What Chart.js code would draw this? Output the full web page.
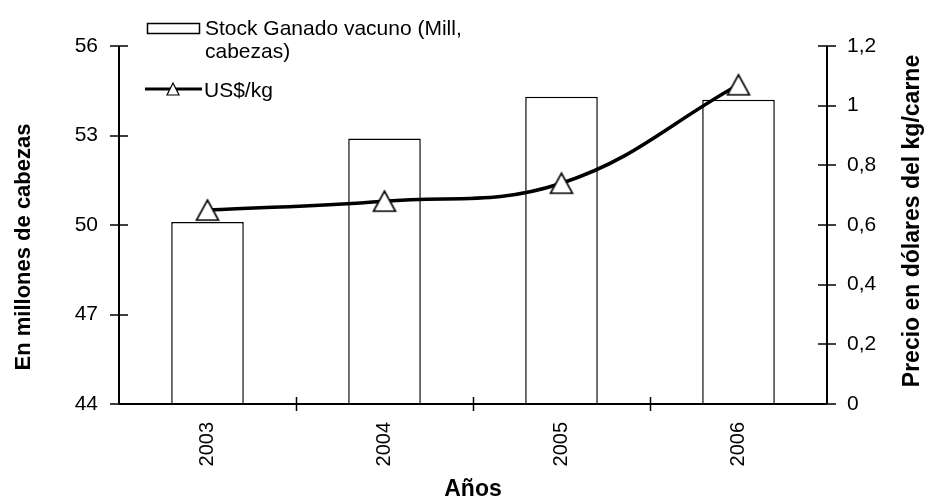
<!DOCTYPE html>
<html><head><meta charset="utf-8">
<script src="https://cdn.jsdelivr.net/npm/chart.js@4"></script>
<style>html,body{margin:0;padding:0;background:#fff;} #wrap{width:925px;height:502px;position:relative;}</style>
</head><body><div id="wrap"><canvas id="c" width="925" height="502"></canvas></div>
<script>
const years = ['2003', '2004', '2005', '2006'];
const stockValues = [50.1, 52.9, 54.3, 54.2];
const priceValues = [0.65, 0.68, 0.74, 1.07];
const stockTicks = [44, 47, 50, 53, 56];
const priceTicks = [0, 0.2, 0.4, 0.6, 0.8, 1, 1.2];
const stockLabelLines = ['Stock Ganado vacuno (Mill,', 'cabezas)'];
const priceLabel = 'US$/kg';
const leftTitle = 'En millones de cabezas';
const rightTitle = 'Precio en dólares del kg/carne';
const xTitle = 'Años';

const FONT = '"Liberation Sans", Arial, sans-serif';

// Excel-like triangle marker, centred on its bounding box
function makeTriangle(w, h) {
  const c = document.createElement('canvas');
  c.width = w + 4; c.height = h + 4;
  const g = c.getContext('2d');
  g.fillStyle = '#fff'; g.strokeStyle = '#000'; g.lineWidth = 1.6;
  g.lineJoin = 'miter';
  g.beginPath();
  g.moveTo((w + 4) / 2, 2); g.lineTo(w + 2, h + 2); g.lineTo(2, h + 2); g.closePath();
  g.fill(); g.stroke();
  return c;
}
const triMarker = makeTriangle(22, 20);

const decor = {
  id: 'decor',
  afterDraw(chart) {
    const ctx = chart.ctx, ca = chart.chartArea;
    const xs = chart.scales.x, ys = chart.scales.y, ys1 = chart.scales.y1;
    ctx.save();
    ctx.strokeStyle = '#000';
    ctx.lineWidth = 2;
    ctx.lineCap = 'butt';
    ctx.beginPath();
    ctx.moveTo(ca.left, ca.top); ctx.lineTo(ca.left, ca.bottom);
    ctx.moveTo(ca.right, ca.top); ctx.lineTo(ca.right, ca.bottom);
    ctx.moveTo(ca.left, ca.bottom); ctx.lineTo(ca.right, ca.bottom);
    ctx.stroke();
    ctx.lineWidth = 1.5;
    ctx.beginPath();
    ys.ticks.forEach(t => { const p = Math.round(ys.getPixelForValue(t.value)); ctx.moveTo(ca.left - 9, p); ctx.lineTo(ca.left + 9, p); });
    ys1.ticks.forEach(t => { const p = Math.round(ys1.getPixelForValue(t.value)); ctx.moveTo(ca.right - 9, p); ctx.lineTo(ca.right + 9, p); });
    const half = (xs.getPixelForValue(1) - xs.getPixelForValue(0)) / 2;
    for (let i = 1; i < years.length; i++) {
      const p = Math.round(xs.getPixelForValue(i) - half) + 0.5;
      ctx.moveTo(p, ca.bottom - 7); ctx.lineTo(p, ca.bottom + 7);
    }
    ctx.stroke();

    ctx.fillStyle = '#000';
    ctx.textAlign = 'center';
    ctx.textBaseline = 'middle';
    const cy = (ca.top + ca.bottom) / 2;
    ctx.save();
    ctx.translate(24, cy + 22);
    ctx.rotate(-Math.PI / 2);
    ctx.font = 'bold 22px ' + FONT;
    ctx.fillText(leftTitle, 0, 0);
    ctx.restore();
    ctx.save();
    ctx.translate(913, cy - 4);
    ctx.rotate(-Math.PI / 2);
    ctx.font = 'bold 23px ' + FONT;
    ctx.fillText(rightTitle, 0, 0);
    ctx.restore();
    ctx.font = 'bold 23px ' + FONT;
    ctx.fillText(xTitle, (ca.left + ca.right) / 2, 490);

    ctx.font = '21px ' + FONT;
    ctx.textAlign = 'left';
    ctx.textBaseline = 'alphabetic';
    ctx.fillStyle = '#fff';
    ctx.fillRect(147, 23, 52, 10);
    ctx.lineWidth = 1.5;
    ctx.strokeRect(147.5, 23.5, 52, 10);
    ctx.fillStyle = '#000';
    ctx.fillText(stockLabelLines[0], 205, 35);
    ctx.fillText(stockLabelLines[1], 205, 58);
    ctx.lineWidth = 3;
    ctx.beginPath(); ctx.moveTo(145, 89); ctx.lineTo(202, 89); ctx.stroke();
    ctx.fillStyle = '#fff'; ctx.lineWidth = 1.2;
    ctx.beginPath(); ctx.moveTo(173, 83); ctx.lineTo(179, 95); ctx.lineTo(167, 95); ctx.closePath(); ctx.fill(); ctx.stroke();
    ctx.fillStyle = '#000';
    ctx.fillText(priceLabel, 204, 97);
    ctx.restore();
  }
};

new Chart(document.getElementById('c'), {
  type: 'bar',
  data: {
    labels: years,
    datasets: [
      {
        type: 'line', label: priceLabel, data: priceValues, yAxisID: 'y1', order: 0,
        borderColor: '#000', borderWidth: 3.5, tension: 0.4,
        pointStyle: triMarker, pointRadius: 11
      },
      {
        type: 'bar', label: stockLabelLines.join(' '), data: stockValues, yAxisID: 'y', order: 1,
        backgroundColor: '#fff', borderColor: '#000', borderWidth: 1.5,
        barPercentage: 0.41, categoryPercentage: 1
      }
    ]
  },
  options: {
    responsive: false, animation: false, devicePixelRatio: 1,
    layout: { padding: { top: 46, left: 0, right: 0, bottom: 0 } },
    plugins: { legend: { display: false }, tooltip: { enabled: false } },
    scales: {
      x: {
        offset: true,
        grid: { display: false, drawTicks: false },
        border: { display: false },
        ticks: { color: '#000', font: { family: FONT, size: 20 }, minRotation: 90, maxRotation: 90, padding: 18 },
        afterFit: s => { s.height = 98; }
      },
      y: {
        position: 'left', min: 44, max: 56,
        grid: { display: false, drawTicks: false },
        border: { display: false },
        afterBuildTicks: s => { s.ticks = stockTicks.map(v => ({ value: v })); },
        ticks: { color: '#000', font: { family: FONT, size: 21 }, padding: 21 },
        afterFit: s => { s.width = 119; }
      },
      y1: {
        position: 'right', min: 0, max: 1.2,
        grid: { display: false, drawTicks: false },
        border: { display: false },
        afterBuildTicks: s => { s.ticks = priceTicks.map(v => ({ value: v })); },
        ticks: { color: '#000', font: { family: FONT, size: 21 }, padding: 20,
          callback: v => String(Math.round(v * 10) / 10).replace('.', ',') },
        afterFit: s => { s.width = 98; }
      }
    }
  },
  plugins: [decor]
});
</script>
</body></html>
